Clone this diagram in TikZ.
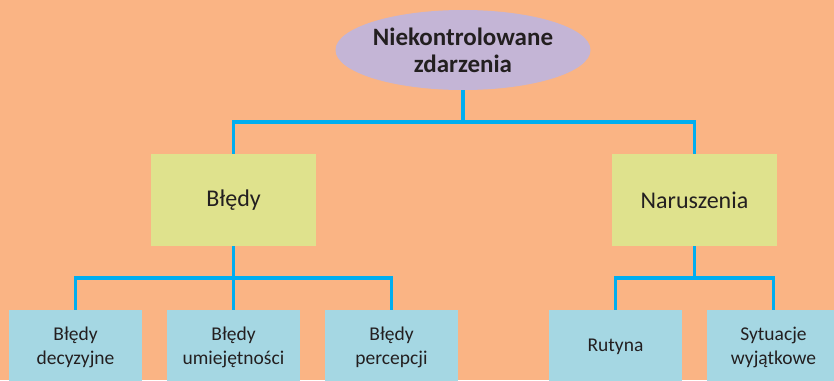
\documentclass[tikz,border=0pt]{standalone}
\usepackage{fontspec}
\setmainfont{Carlito}
\definecolor{tlo}{HTML}{FAB484}
\definecolor{fiolet}{HTML}{C4B5D6}
\definecolor{zolty}{HTML}{DFE28D}
\definecolor{niebieski}{HTML}{A5D7E3}
\definecolor{linia}{HTML}{00AEEF}
\definecolor{tekst}{HTML}{231F20}
\tikzset{
  glowny/.style={ellipse, fill=fiolet, minimum width=255pt, minimum height=80pt, inner sep=0pt,
    align=center, text=tekst, font=\fontsize{25}{27}\selectfont\bfseries},
  grupa/.style={rectangle, fill=zolty, minimum width=165pt, minimum height=92pt,
    text=tekst, font=\fontsize{24}{28}\selectfont},
  rodzaj/.style={rectangle, fill=niebieski, minimum width=133pt, minimum height=74pt,
    align=center, text=tekst, font=\fontsize{19.5}{24}\selectfont},
  polacz/.style={draw=linia, line width=3.5pt}
}
\usetikzlibrary{shapes.geometric}
\begin{document}
\begin{tikzpicture}[x=1pt, y=-1pt]
\clip (0,0) rectangle (834,380);
\fill[tlo] (0,0) rectangle (834,380);
\node[glowny] (zdarzenia) at (463,50) {Niekontrolowane\\zdarzenia};
\node[grupa] (bledy) at (233.5,200) {Błędy};
\node[grupa] (naruszenia) at (694.5,200) {Naruszenia};
\node[rodzaj] (decyzyjne) at (75.5,347) {Błędy\\decyzyjne};
\node[rodzaj] (umiejetnosci) at (233.5,347) {Błędy\\umiejętności};
\node[rodzaj] (percepcji) at (391.5,347) {Błędy\\percepcji};
\node[rodzaj] (rutyna) at (615.5,347) {Rutyna};
\node[rodzaj] (sytuacje) at (773.5,347) {Sytuacje\\wyjątkowe};
\coordinate (gora) at (463,122);
\coordinate (lewo) at (233.5,278);
\coordinate (prawo) at (694.5,278);
\draw[polacz] (zdarzenia) -- (gora);
\draw[polacz] (gora) -| (bledy);
\draw[polacz] (gora) -| (naruszenia);
\draw[polacz] (bledy) -- (lewo);
\draw[polacz] (lewo) -| (decyzyjne);
\draw[polacz] (lewo) -- (umiejetnosci);
\draw[polacz] (lewo) -| (percepcji);
\draw[polacz] (naruszenia) -- (prawo);
\draw[polacz] (prawo) -| (rutyna);
\draw[polacz] (prawo) -| (sytuacje);
\end{tikzpicture}
\end{document}
